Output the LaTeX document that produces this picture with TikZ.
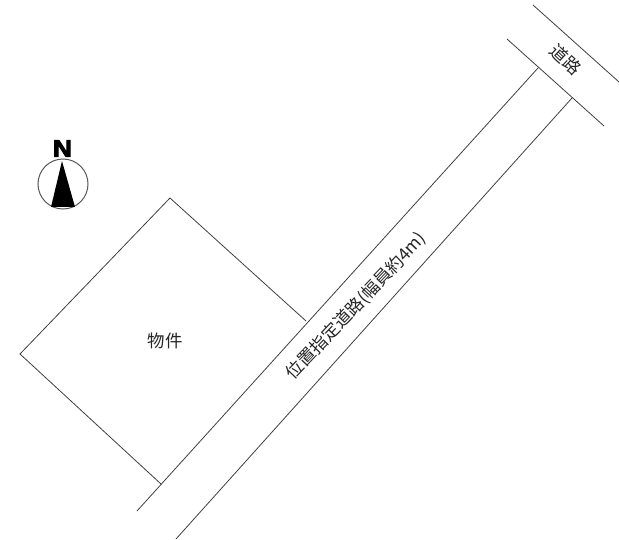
\documentclass[tikz,border=0pt]{standalone}
\usepackage{fontspec}
\setmainfont{Liberation Sans}
\newfontfamily\cjk{Noto Sans CJK JP}
\tikzset{
  lot/.style={draw=black!75,line width=0.8pt},
  lbl/.style={inner sep=0pt,text=black!85,font=\cjk\fontsize{17.4}{17.4}\selectfont},
}
\begin{document}
\begin{tikzpicture}[x=1pt,y=-1pt]
\useasboundingbox (0,0) rectangle (619,540);
\fill[white] (0,0) rectangle (619,540);
% road lines
\coordinate (rl1) at (137,511);
\coordinate (rl2) at (538,68);
\coordinate (rr1) at (176,539);
\coordinate (rr2) at (572,98);
\coordinate (tl1) at (507,39);
\coordinate (tl2) at (604,126);
\coordinate (tu1) at (533,5);
\coordinate (tu2) at (619,82);
\draw[lot] (rl1) -- (rl2);
\draw[lot] (rr1) -- (rr2);
\draw[lot] (tl1) -- (tl2);
\draw[lot] (tu1) -- (tu2);
% property
\coordinate (p1) at (170,198);
\coordinate (p2) at (306,321);
\coordinate (p3) at (20,354);
\coordinate (p4) at (161,484);
\draw[lot] (p2) -- (p1) -- (p3) -- (p4);
\node[lbl] (bukken) at (165,341) {物件};
\node[lbl,rotate=-43] (douro) at (566,60) {道路};
\node[lbl,rotate=46.5] (ichi) at (356,306) {位置指定道路(幅員約4m)};
% north mark
\node[draw=black!65,line width=1pt,circle,minimum size=50pt,inner sep=0pt] (comp) at (63,184) {};
\coordinate (a1) at (62,161);
\coordinate (a2) at (51,207);
\coordinate (a3) at (75,207);
\fill[black] (a1) -- (a2) -- (a3) -- cycle;
\node[inner sep=0pt,xscale=1.12,font=\bfseries\fontsize{23.5}{23.5}\selectfont] (north) at (62.5,148.5) {\special{pdf:literal direct 2 Tr 0.9 w}N\special{pdf:literal direct 0 Tr 0 w}};
\end{tikzpicture}
\end{document}
